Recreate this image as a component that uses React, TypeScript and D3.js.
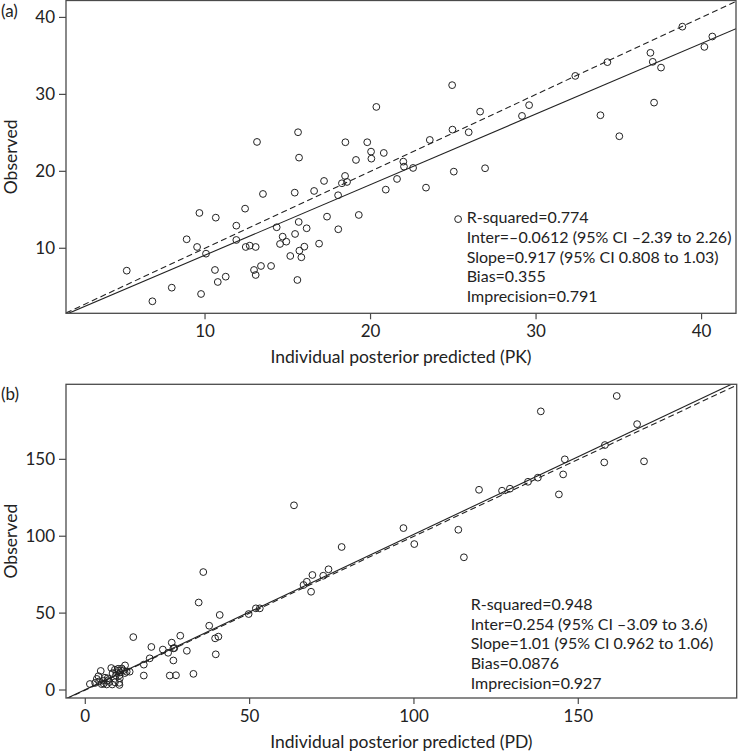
import React from "react";
import * as d3 from "d3";

// Panel (a) PK
const pkPredicted = [5.27, 6.82, 7.99, 8.89, 9.66, 9.52, 10.06, 9.76, 10.65, 10.6, 10.77, 11.25, 11.89, 11.89, 12.42, 12.46, 12.7, 13.06, 12.96, 13.06, 13.38, 13.5, 13.99, 14.33, 14.53, 14.69, 14.91, 15.15, 15.42, 15.44, 15.58, 15.66, 15.7, 15.82, 16.0, 16.14, 16.59, 16.89, 17.19, 17.37, 18.04, 18.05, 18.27, 18.46, 18.58, 19.29, 19.12, 13.14, 15.62, 15.68, 18.48, 19.8, 20.03, 20.05, 20.8, 20.35, 20.92, 21.6, 21.98, 22.02, 22.57, 23.35, 23.58, 24.95, 24.93, 25.03, 25.93, 26.62, 25.29, 26.92, 29.15, 29.58, 32.37, 34.31, 33.89, 35.03, 36.91, 37.05, 37.55, 37.13, 38.84, 40.17, 40.65];
const pkObserved = [7.09, 3.11, 4.88, 11.17, 14.59, 10.17, 9.3, 4.06, 13.98, 7.18, 5.62, 6.31, 12.94, 11.08, 15.15, 10.17, 10.34, 10.17, 7.18, 6.53, 7.7, 17.06, 7.7, 12.73, 10.56, 11.51, 10.86, 9.0, 17.23, 11.86, 5.88, 13.42, 9.69, 8.83, 10.21, 12.6, 17.45, 10.6, 18.75, 14.11, 16.89, 12.47, 18.45, 19.4, 18.62, 14.33, 21.48, 23.82, 25.08, 21.78, 23.78, 23.78, 22.56, 21.65, 22.39, 28.37, 17.62, 19.01, 21.26, 20.61, 20.44, 17.88, 24.08, 25.42, 31.2, 19.96, 25.08, 27.76, 13.79, 20.4, 27.2, 28.6, 32.4, 34.19, 27.29, 24.56, 35.4, 34.23, 33.48, 28.93, 38.8, 36.17, 37.52];

// Panel (b) PD
const pdPredicted = [1.4, 3.0, 3.5, 4.0, 4.7, 4.2, 5.0, 5.6, 6.0, 6.5, 7.0, 7.4, 7.9, 8.3, 8.2, 9.0, 9.3, 9.6, 10.0, 10.1, 10.4, 10.5, 10.3, 10.4, 10.6, 11.1, 11.5, 12.1, 12.6, 13.5, 12.0, 6.8, 5.5, 9.0,
  14.6, 17.8, 17.8, 19.6, 20.1, 23.6, 25.2, 26.3, 26.8, 27.1, 26.8, 25.7, 27.6, 28.9, 30.9, 32.9, 34.5, 35.9, 37.7, 39.5, 40.5, 39.7, 40.9, 49.7, 51.9, 53.1, 63.5, 66.4, 67.4, 68.7, 69.1, 72.4, 74.0, 78.0, 96.8, 100.1, 113.5, 115.2, 119.8, 126.8, 129.2, 134.7, 137.7, 138.6, 144.1, 145.4, 145.9, 157.9, 158.1, 161.7, 167.9, 170.0];
const pdObserved = [3.9, 4.6, 7.2, 9.0, 12.4, 5.6, 3.8, 4.2, 8.0, 3.6, 6.4, 5.2, 14.3, 11.0, 3.6, 13.2, 9.5, 11.0, 13.8, 12.6, 9.6, 7.6, 4.7, 3.3, 11.4, 14.0, 12.8, 16.0, 11.9, 11.9, 11.0, 7.6, 6.0, 5.0,
  34.4, 16.5, 9.4, 20.6, 28.0, 26.3, 24.2, 30.8, 27.1, 27.3, 19.2, 9.4, 9.6, 35.3, 25.5, 10.5, 56.9, 76.7, 41.8, 33.6, 34.7, 23.2, 48.8, 49.4, 53.1, 53.1, 120.1, 68.3, 70.4, 63.9, 74.8, 74.3, 78.5, 93.0, 105.3, 94.9, 104.2, 86.3, 130.2, 129.6, 130.9, 135.4, 138.1, 181.2, 127.2, 140.2, 150.0, 148.0, 159.3, 191.2, 172.9, 148.7];

const pkTicks = [10, 20, 30, 40];
const pdTicks = [0, 50, 100, 150];

const pkStats = [
  "R-squared=0.774",
  "Inter=–0.0612 (95% CI –2.39 to 2.26)",
  "Slope=0.917 (95% CI 0.808 to 1.03)",
  "Bias=0.355",
  "Imprecision=0.791",
];
const pdStats = [
  "R-squared=0.948",
  "Inter=0.254 (95% CI –3.09 to 3.6)",
  "Slope=1.01 (95% CI 0.962 to 1.06)",
  "Bias=0.0876",
  "Imprecision=0.927",
];
const pkFit = [-0.0612, 0.917];
const pdFit = [0.254, 1.01];

const FONT = "Lato, 'Open Sans', sans-serif";

type PanelProps = {
  id: string;
  label: string;
  xTitle: string;
  xs: number[];
  ys: number[];
  ticksX: number[];
  ticksY: number[];
  xDomain: [number, number];
  yDomain: [number, number];
  left: number;
  right: number;
  top: number;
  bottom: number;
  fit: number[];
  stats: string[];
  statsX: number;
  statsY: number;
  labelY: number;
};

function Panel(p: PanelProps) {
  const x = d3.scaleLinear().domain(p.xDomain).range([p.left, p.right]);
  const y = d3.scaleLinear().domain(p.yDomain).range([p.bottom, p.top]);
  const line = d3
    .line<[number, number]>()
    .x((d) => x(d[0]))
    .y((d) => y(d[1]));
  const x0 = p.xDomain[0];
  const x1 = p.xDomain[1];
  const fitPts: [number, number][] = [
    [x0, p.fit[0] + p.fit[1] * x0],
    [x1, p.fit[0] + p.fit[1] * x1],
  ];
  const idPts: [number, number][] = [
    [x0, x0],
    [x1, x1],
  ];
  const axisColor = "#4a4a4a";
  const textColor = "#222";
  return (
    <g>
      <defs>
        <clipPath id={"clip-" + p.id}>
          <rect x={p.left} y={p.top} width={p.right - p.left} height={p.bottom - p.top} />
        </clipPath>
      </defs>
      <g clipPath={`url(#clip-${p.id})`}>
        <path d={line(idPts) || ""} fill="none" stroke="#222" strokeWidth={1.1} strokeDasharray="6,3.5" />
        <path d={line(fitPts) || ""} fill="none" stroke="#222" strokeWidth={1.1} />
      </g>
      {p.xs.map((v, i) => (
        <circle key={i} cx={x(v)} cy={y(p.ys[i])} r={3.4} fill="none" stroke="#222" strokeWidth={1} />
      ))}
      <rect x={p.left} y={p.top} width={p.right - p.left} height={p.bottom - p.top} fill="none" stroke={axisColor} strokeWidth={1.3} />
      {p.ticksX.map((t) => (
        <g key={"x" + t}>
          <line x1={x(t)} x2={x(t)} y1={p.bottom} y2={p.bottom + 6} stroke={axisColor} strokeWidth={1.2} />
          <text x={x(t)} y={p.bottom + 24} textAnchor="middle" fontSize={17} fill={textColor} fontFamily={FONT}>
            {t}
          </text>
        </g>
      ))}
      {p.ticksY.map((t) => (
        <g key={"y" + t}>
          <line x1={p.left - 7} x2={p.left} y1={y(t)} y2={y(t)} stroke={axisColor} strokeWidth={1.2} />
          <text x={p.left - 11} y={y(t) + 6} textAnchor="end" fontSize={17} fill={textColor} fontFamily={FONT}>
            {t}
          </text>
        </g>
      ))}
      <text x={(p.left + p.right) / 2} y={p.bottom + 49.5} textAnchor="middle" fontSize={17.5} fill={textColor} fontFamily={FONT}>
        {p.xTitle}
      </text>
      <text
        transform={`translate(17,${(p.top + p.bottom) / 2}) rotate(-90)`}
        textAnchor="middle"
        fontSize={17.5}
        fill={textColor}
        fontFamily={FONT}
      >
        Observed
      </text>
      <text x={1} y={p.labelY} fontSize={17} fill={textColor} fontFamily={FONT}>
        {p.label}
      </text>
      {p.stats.map((s, i) => (
        <text key={i} x={p.statsX} y={p.statsY + i * 19.7} fontSize={16} fill={textColor} fontFamily={FONT}>
          {s}
        </text>
      ))}
    </g>
  );
}

export default function App() {
  return (
    <svg width={738} height={751} style={{ position: "absolute", left: 0, top: 0, background: "#fff" }}>
      <rect width={738} height={751} fill="#fff" />
      <Panel
        id="a"
        label="(a)"
        xTitle="Individual posterior predicted (PK)"
        xs={pkPredicted}
        ys={pkObserved}
        ticksX={pkTicks}
        ticksY={pkTicks}
        xDomain={[1.6, 42.08]}
        yDomain={[1.55, 42.2]}
        left={66}
        right={736}
        top={0.5}
        bottom={313.3}
        fit={pkFit}
        stats={pkStats}
        statsX={466.7}
        statsY={223.3}
        labelY={17}
      />
      <Panel
        id="b"
        label="(b)"
        xTitle="Individual posterior predicted (PD)"
        xs={pdPredicted}
        ys={pdObserved}
        ticksX={pdTicks}
        ticksY={pdTicks}
        xDomain={[-5.87, 198.2]}
        yDomain={[-5.2, 198.8]}
        left={66}
        right={736.7}
        top={384.3}
        bottom={698}
        fit={pdFit}
        stats={pdStats}
        statsX={470.7}
        statsY={610}
        labelY={400}
      />
    </svg>
  );
}
